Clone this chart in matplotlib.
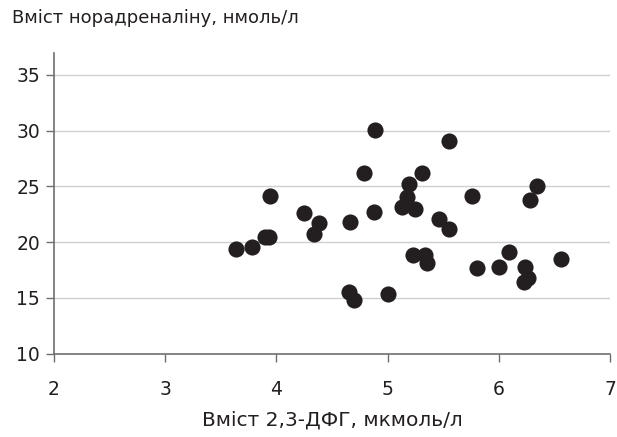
import matplotlib
matplotlib.use("Agg")
import matplotlib.pyplot as plt

x_dfg = [3.64, 3.78, 3.90, 3.93, 3.94, 4.25, 4.38, 4.34, 4.66, 4.65, 4.70,
         4.79, 4.89, 4.88, 5.00, 5.13, 5.19, 5.17, 5.25, 5.23, 5.34, 5.35,
         5.31, 5.46, 5.55, 5.55, 5.76, 5.80, 6.00, 6.09, 6.24, 6.23, 6.26,
         6.28, 6.34, 6.56]
y_na = [19.38, 19.56, 20.48, 20.48, 24.13, 22.63, 21.74, 20.70, 21.77, 15.50, 14.81,
        26.16, 30.07, 22.67, 15.35, 23.13, 25.22, 24.07, 22.99, 18.82, 18.82, 18.10,
        26.16, 22.07, 29.03, 21.20, 24.13, 17.68, 17.80, 19.09, 17.74, 16.45, 16.76,
        23.77, 25.03, 18.46]

x_ticks = [2, 3, 4, 5, 6, 7]
y_ticks = [10, 15, 20, 25, 30, 35]
y_title = "Вміст норадреналіну, нмоль/л"
x_title = "Вміст 2,3-ДФГ, мкмоль/л"

plt.rcParams['font.family'] = ['DejaVu Sans']
fig = plt.figure(figsize=(6.17, 4.37), dpi=100)
ax = fig.add_axes([54/617, 1 - 353.7/437, (610-54)/617, (353.7-53)/437])

ax.set_xlim(2, 7)
ax.set_ylim(10, 10 + (353.7-53)/11.16)
ax.set_xticks(x_ticks)
ax.set_yticks(y_ticks)
for t in y_ticks[1:]:
    ax.axhline(t, color='#d0d0d0', lw=1.0, zorder=0)

ax.scatter(x_dfg, y_na, s=135, color='#231f20', zorder=3, clip_on=False, linewidths=0)

for s in ['top', 'right']:
    ax.spines[s].set_visible(False)
ax.spines['left'].set_color('#6e6e6e')
ax.spines['bottom'].set_color('#6e6e6e')
ax.spines['left'].set_linewidth(1.2)
ax.spines['bottom'].set_linewidth(1.2)
ax.tick_params(axis='both', direction='out', length=6, width=1, color='#6e6e6e',
               labelsize=13.5, labelcolor='#231f20')
ax.tick_params(axis='x', pad=13)
ax.tick_params(axis='y', pad=4)

fig.text(12/617, 1 - 18/437, y_title, fontsize=13, color='#231f20', va='center', ha='left')
ax.set_xlabel(x_title, fontsize=14.5, color='#231f20', labelpad=8)

fig.savefig("out.png", dpi=100)
